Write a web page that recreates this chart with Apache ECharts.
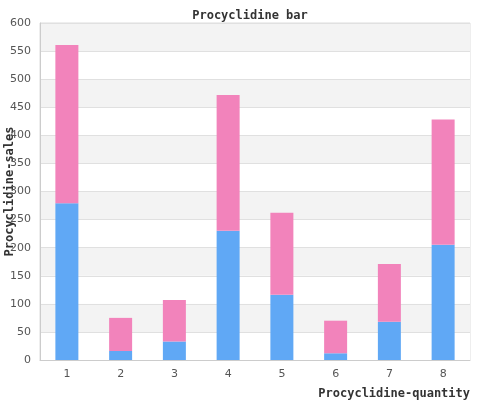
<!DOCTYPE html>
<html>
<head>
<meta charset="utf-8">
<script src="https://cdn.jsdelivr.net/npm/echarts@6/dist/echarts.min.js"></script>
<style>html,body{margin:0;padding:0;background:#fff}#c{width:500px;height:400px}</style>
</head>
<body>
<div id="c"></div>
<script>
var categories = ['1','2','3','4','5','6','7','8'];
var seriesA = [279, 16, 33, 230, 116, 12, 68, 205];
var seriesB = [282, 59, 74, 242, 146, 58, 103, 223];

var chart = echarts.init(document.getElementById('c'));
chart.setOption({
  animation: false,
  title: {
    text: 'Procyclidine bar', left: 'center', top: 5,
    textStyle: { fontFamily: 'DejaVu Sans Mono', fontWeight: 'bold', fontSize: 12, color: '#333' }
  },
  grid: { left: 40, right: 30, top: 23, bottom: 40, containLabel: false, outerBoundsMode: 'none', show: true, borderColor: '#ddd', borderWidth: 1, backgroundColor: 'transparent' },
  xAxis: {
    type: 'category', data: categories,
    name: 'Procyclidine-quantity', nameLocation: 'end',
    nameGap: 0, nameMoveOverlap: false,
    nameTextStyle: { fontFamily: 'DejaVu Sans Mono', fontWeight: 'bold', fontSize: 12, color: '#333', align: 'right', verticalAlign: 'top', padding: [28, 0, 0, 0] },
    axisLine: { lineStyle: { color: '#ccc' } },
    axisTick: { show: false },
    axisLabel: { color: '#555', fontSize: 11, margin: 9, fontFamily: 'DejaVu Sans' }
  },
  yAxis: {
    type: 'value', min: 0, max: 600, interval: 50,
    name: 'Procyclidine-sales', nameLocation: 'middle', nameGap: 24, nameMoveOverlap: false,
    nameTextStyle: { fontFamily: 'DejaVu Sans Mono', fontWeight: 'bold', fontSize: 12, color: '#333' },
    axisLine: { show: true, lineStyle: { color: '#ccc' } },
    axisTick: { show: false },
    axisLabel: { color: '#555', fontSize: 11, margin: 9, fontFamily: 'DejaVu Sans' },
    splitLine: { lineStyle: { color: '#e0e0e0' } },
    splitArea: { show: true, areaStyle: { color: ['#ffffff', '#f3f3f3'] } }
  },
  series: [
    { type: 'bar', stack: 's', data: seriesA, barWidth: 23, itemStyle: { color: '#60a8f5' } },
    { type: 'bar', stack: 's', data: seriesB, barWidth: 23, itemStyle: { color: '#f283bb' } }
  ]
});
</script>
</body>
</html>
